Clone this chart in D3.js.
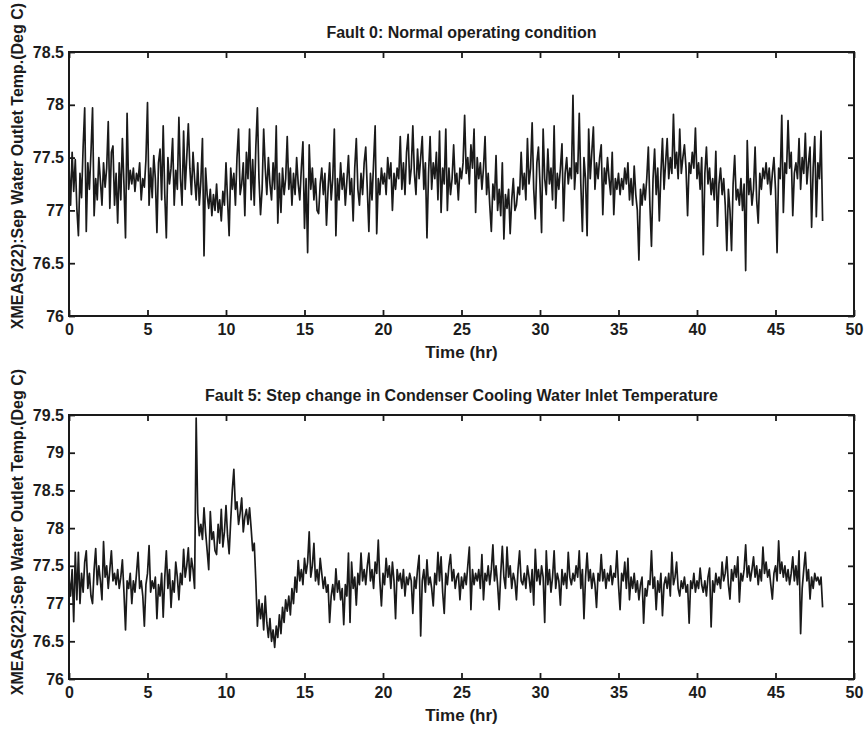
<!DOCTYPE html>
<html>
<head>
<meta charset="utf-8">
<script src="https://cdn.jsdelivr.net/npm/d3@7"></script>
<style>
  body { margin: 0; background: #ffffff; }
  svg { display: block; }
  text { font-family: "Liberation Sans", Arial, Helvetica, sans-serif; font-weight: bold; fill: #1c1c1c; }
</style>
</head>
<body>
<svg id="chart" width="868" height="730"></svg>
<script>
// Separator cooling-water outlet temperature, sampled every 0.1 h over 48 h
const timeStep = 0.1;

// Fault 0: normal operating condition
const fault0Temp = [
  77.42,77.05,77.55,77.18,77.48,77.02,76.76,77.35,77.12,77.60,
  77.97,76.80,77.45,77.20,77.55,77.97,76.95,77.30,77.10,77.50,
  77.28,77.05,77.45,77.22,77.40,77.84,77.02,77.55,77.61,77.05,
  77.35,76.88,77.45,77.10,77.68,77.25,76.74,77.92,77.20,77.38,
  77.25,77.40,77.18,77.35,77.28,77.45,77.10,77.30,77.22,77.48,
  78.02,77.05,77.40,77.12,77.52,77.30,76.79,77.45,77.58,77.10,
  77.80,77.15,76.74,77.50,77.25,77.40,77.68,77.05,77.38,77.20,
  77.88,77.30,77.05,77.75,77.20,77.50,77.82,77.40,77.15,77.55,
  77.30,77.10,77.45,77.05,77.28,77.68,76.57,77.40,77.15,77.02,
  77.20,76.95,77.15,77.00,77.25,76.98,77.10,76.90,77.18,77.05,
  77.45,77.10,76.76,77.40,77.20,77.35,77.05,77.50,77.77,77.15,
  77.25,77.45,76.95,77.55,77.30,77.77,77.10,77.48,77.05,77.60,
  77.97,77.30,76.96,77.20,77.77,77.40,77.15,77.50,77.25,77.10,
  77.45,77.20,77.80,76.88,77.35,76.98,77.40,77.15,77.30,77.70,
  77.20,77.40,77.05,77.35,77.15,77.50,77.25,77.10,77.40,77.65,
  76.83,77.30,76.60,77.62,77.20,77.40,77.10,77.30,77.00,76.97,
  77.25,77.40,77.15,77.35,76.86,77.20,77.45,77.10,77.30,77.77,
  76.76,77.30,77.10,77.45,77.20,77.35,77.05,77.28,77.52,77.15,
  77.30,76.90,77.40,77.68,77.20,77.05,77.35,77.15,77.45,77.60,
  77.20,76.80,77.35,77.10,77.45,77.80,76.78,77.30,77.15,77.40,
  77.25,77.35,77.15,77.50,77.30,77.45,77.00,77.35,77.20,77.40,
  77.30,77.70,77.20,77.45,77.15,77.55,77.72,77.25,77.40,77.80,
  77.35,77.15,77.58,77.30,77.50,77.70,77.20,77.45,76.74,77.35,
  77.70,77.20,77.45,77.30,77.55,77.10,77.75,76.98,77.40,77.25,
  77.77,77.00,77.40,77.15,77.30,77.62,77.25,77.35,77.10,77.40,
  77.30,77.45,77.90,77.35,77.50,77.25,77.62,77.40,77.77,76.98,
  77.50,77.30,77.45,77.20,77.40,77.70,77.15,77.35,77.05,76.80,
  77.25,77.10,77.52,77.00,77.20,76.95,77.45,76.73,77.15,77.02,
  77.20,76.78,77.10,77.30,77.00,77.05,77.22,77.15,77.55,77.20,
  77.35,77.10,77.68,77.25,77.40,77.83,77.20,76.92,77.45,77.60,
  77.25,76.79,77.77,77.30,77.15,77.58,77.25,77.40,77.10,77.80,
  77.02,77.35,77.20,77.40,77.63,76.90,77.35,77.50,77.25,77.40,
  77.30,78.09,77.20,77.45,77.35,77.92,77.25,76.80,77.50,77.30,
  76.76,77.77,77.30,77.55,77.79,77.20,77.45,77.30,77.50,77.62,
  76.96,77.40,77.25,77.50,77.30,77.15,77.55,76.96,77.30,77.20,
  77.35,77.15,77.30,77.20,77.40,77.25,77.45,77.10,77.30,77.05,
  77.42,77.15,77.00,76.53,77.20,77.05,77.25,77.10,77.30,77.60,
  77.05,76.66,77.30,77.58,77.15,77.40,76.90,77.35,77.68,77.20,
  77.45,77.68,77.30,77.50,77.35,77.91,77.40,77.55,77.30,77.77,
  77.35,77.50,77.62,77.40,76.95,77.45,77.35,77.55,77.40,77.78,
  77.30,77.45,77.20,77.50,76.58,77.35,77.60,77.25,77.40,77.15,
  77.30,77.10,77.56,76.85,77.25,77.40,77.15,77.30,77.05,76.62,
  77.20,77.00,76.62,77.25,77.52,77.10,77.20,77.05,77.30,77.00,
  77.25,76.43,77.66,77.15,77.30,77.05,77.20,77.60,77.10,76.88,
  77.35,77.20,77.40,77.30,77.45,77.25,77.40,77.15,77.35,77.50,
  77.20,76.60,77.40,77.30,77.90,76.98,77.45,77.35,77.85,77.40,
  77.55,76.95,77.35,77.45,77.30,77.68,77.20,77.50,77.35,77.73,
  77.25,77.45,77.60,76.84,77.40,77.70,76.94,77.45,77.30,77.75,
  76.90
];

// Fault 5: step change in condenser cooling water inlet temperature
const fault5Temp = [
  77.35,77.10,77.45,76.76,77.68,77.05,77.68,77.00,77.40,77.15,
  77.55,77.70,77.20,77.40,77.10,77.00,77.45,77.73,77.25,77.50,
  77.30,77.05,77.82,77.35,77.50,77.20,77.45,77.70,77.30,77.40,
  77.25,77.45,77.20,77.35,77.58,77.15,76.65,77.30,77.20,77.40,
  77.00,77.30,77.15,77.40,77.68,77.20,77.30,77.10,76.70,77.25,
  77.40,77.77,77.15,77.30,77.20,77.35,76.80,77.25,77.10,77.40,
  76.82,77.35,77.70,77.20,77.45,76.95,77.30,77.15,77.55,77.35,
  77.05,77.40,77.25,77.72,77.35,77.50,77.74,77.30,77.60,77.45,
  77.20,79.46,78.20,77.90,78.05,77.85,78.27,77.95,77.70,77.45,
  78.22,77.85,77.95,77.70,77.65,78.05,77.80,78.25,77.75,77.95,
  78.30,77.90,77.66,78.10,78.50,78.78,78.25,78.35,78.05,78.20,
  78.40,77.95,78.15,78.25,78.05,78.27,78.00,77.70,77.80,77.30,
  76.70,77.05,76.80,77.00,76.65,77.10,76.75,76.55,76.80,76.50,
  76.65,76.42,76.70,76.55,76.85,76.60,76.95,76.75,77.05,76.90,
  77.10,76.85,77.20,77.00,77.35,77.15,77.57,77.30,77.45,77.25,
  77.60,77.40,77.55,77.95,77.35,77.50,77.80,77.30,77.45,77.25,
  77.60,77.40,77.20,77.35,77.15,77.25,76.75,77.10,77.25,77.05,
  77.46,77.15,77.30,77.05,77.20,76.72,77.25,77.10,77.67,76.75,
  77.55,77.20,77.35,76.98,77.40,77.25,77.67,77.30,77.45,77.25,
  77.50,77.67,77.30,77.45,77.20,77.55,77.40,77.84,77.30,76.97,
  77.40,77.25,77.60,77.35,77.50,77.20,77.55,77.30,76.80,77.45,
  77.30,77.40,77.20,77.45,77.10,77.35,77.25,77.40,77.30,76.87,
  77.35,77.20,77.45,77.64,76.57,77.30,77.45,77.15,77.58,77.25,
  77.35,77.20,76.97,77.40,77.25,77.68,77.30,77.62,77.15,76.87,
  77.40,77.25,77.50,77.65,77.30,77.45,77.20,77.35,77.40,77.05,
  77.35,77.20,77.40,77.25,77.50,77.75,76.92,77.45,77.25,77.40,
  77.30,77.45,77.20,77.65,77.05,77.40,77.30,77.50,77.25,77.45,
  77.78,77.30,77.50,77.25,76.92,77.40,77.76,77.35,77.20,77.75,
  77.35,77.50,77.20,77.40,77.30,77.05,77.45,77.70,77.30,77.25,
  77.40,77.20,77.50,77.35,77.15,77.45,76.98,77.72,77.30,77.45,
  77.25,77.50,77.35,76.75,77.70,77.25,77.45,77.15,77.35,77.70,
  77.20,77.40,77.30,76.98,77.45,77.25,77.40,77.20,77.68,77.35,
  77.25,77.40,77.30,77.50,77.35,77.70,77.20,77.45,76.80,77.35,
  77.67,77.30,77.45,77.20,77.40,77.25,76.95,77.40,77.30,77.65,
  77.30,77.45,77.20,77.40,77.30,77.50,77.25,77.40,77.35,77.70,
  77.25,76.92,77.40,77.30,77.55,77.20,77.60,77.05,77.35,77.20,
  77.40,77.15,77.30,77.05,77.25,77.35,76.74,77.20,77.10,77.30,
  77.25,77.70,77.20,77.35,76.92,77.30,77.15,77.40,76.84,77.25,
  77.35,77.20,77.40,77.10,77.68,77.25,77.35,77.55,77.20,77.10,
  77.30,77.20,77.35,77.15,77.25,76.74,77.30,77.20,77.40,77.15,
  77.30,77.20,77.47,77.25,77.15,77.30,77.10,77.35,77.47,76.69,
  77.30,77.15,77.40,77.25,77.35,77.20,77.55,77.30,77.40,77.62,
  77.25,77.06,77.45,77.30,77.50,77.35,77.62,77.02,77.40,77.30,
  77.45,77.78,77.35,77.50,77.30,77.45,77.62,77.35,77.50,77.25,
  77.45,77.30,77.75,77.40,77.55,77.35,77.45,77.25,77.06,77.40,
  77.50,77.30,77.83,77.40,77.55,77.35,77.50,77.30,77.45,77.25,
  77.40,77.62,77.30,77.50,77.25,77.70,76.60,77.20,77.45,77.68,
  77.30,77.45,77.06,77.35,77.20,77.40,77.30,77.35,77.25,77.35,
  76.95
];

// Axis tick values
const timeTicks = [0, 5, 10, 15, 20, 25, 30, 35, 40, 45, 50];
const tempTicksFault0 = [76, 76.5, 77, 77.5, 78, 78.5];
const tempTicksFault5 = [76, 76.5, 77, 77.5, 78, 78.5, 79, 79.5];

const panelTitles = [
  "Fault 0: Normal operating condition",
  "Fault 5: Step change in Condenser Cooling Water Inlet Temperature"
];
const xLabel = "Time (hr)";
const yLabel = "XMEAS(22):Sep Water Outlet Temp.(Deg C)";

const panels = [
  { title: panelTitles[0], values: fault0Temp, yTicks: tempTicksFault0, top: 52, bottom: 316, labelShift: -18 },
  { title: panelTitles[1], values: fault5Temp, yTicks: tempTicksFault5, top: 415, bottom: 679, labelShift: -15 }
];

const svg = d3.select("#chart");
const left = 69, right = 854;
const tickLen = 6;
const ink = "#1a1a1a";

const x = d3.scaleLinear().domain([0, 50]).range([left, right]);

panels.forEach(p => {
  const yTicks = p.yTicks;
  const y = d3.scaleLinear()
    .domain([yTicks[0], yTicks[yTicks.length - 1]])
    .range([p.bottom, p.top]);

  const g = svg.append("g");

  // trace
  const line = d3.line()
    .x((d, i) => x(i * timeStep))
    .y(d => y(d));
  g.append("path")
    .datum(p.values)
    .attr("fill", "none")
    .attr("stroke", ink)
    .attr("stroke-width", 1.7)
    .attr("stroke-linejoin", "round")
    .attr("d", line);

  // inward ticks on all four sides, labels only on bottom and left
  const styleAxis = sel => {
    sel.select(".domain").remove();
    sel.selectAll(".tick line").attr("stroke", ink).attr("stroke-width", 1.8);
    sel.selectAll(".tick text")
      .attr("fill", ink)
      .style("font-size", "16px");
  };

  g.append("g")
    .attr("transform", `translate(0,${p.bottom})`)
    .call(d3.axisBottom(x).tickValues(timeTicks).tickFormat(d3.format("d")).tickSizeInner(-tickLen).tickSizeOuter(0).tickPadding(8))
    .call(styleAxis);
  g.append("g")
    .attr("transform", `translate(0,${p.top})`)
    .call(d3.axisTop(x).tickValues(timeTicks).tickFormat("").tickSizeInner(-tickLen).tickSizeOuter(0))
    .call(styleAxis);
  g.append("g")
    .attr("transform", `translate(${left},0)`)
    .call(d3.axisLeft(y).tickValues(yTicks).tickFormat(d => String(d)).tickSizeInner(-tickLen).tickSizeOuter(0).tickPadding(5))
    .call(styleAxis);
  g.append("g")
    .attr("transform", `translate(${right},0)`)
    .call(d3.axisRight(y).tickValues(yTicks).tickFormat("").tickSizeInner(-tickLen).tickSizeOuter(0))
    .call(styleAxis);

  // frame
  g.append("rect")
    .attr("x", left).attr("y", p.top)
    .attr("width", right - left).attr("height", p.bottom - p.top)
    .attr("fill", "none").attr("stroke", ink).attr("stroke-width", 2);

  // title
  g.append("text")
    .attr("x", (left + right) / 2)
    .attr("y", p.top - 14)
    .attr("text-anchor", "middle")
    .style("font-size", "16px")
    .text(p.title);

  // x-axis label
  g.append("text")
    .attr("x", (left + right) / 2)
    .attr("y", p.bottom + 42)
    .attr("text-anchor", "middle")
    .style("font-size", "17px")
    .text(xLabel);

  // y-axis label
  g.append("text")
    .attr("transform", `translate(23,${(p.top + p.bottom) / 2 + p.labelShift}) rotate(-90)`)
    .attr("text-anchor", "middle")
    .style("font-size", "16px")
    .text(yLabel);
});
</script>
</body>
</html>
